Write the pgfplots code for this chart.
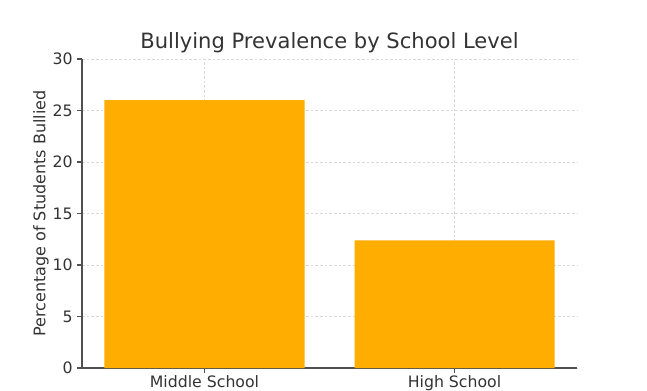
\documentclass[border=0pt]{standalone}
\usepackage{pgfplots}
\pgfplotsset{compat=1.18}
\usepackage{fontspec}
\setmainfont{DejaVu Sans}
\definecolor{barc}{RGB}{255,174,0}
\definecolor{txt}{RGB}{51,51,51}
\definecolor{spine}{RGB}{80,80,80}
\begin{document}
\begin{tikzpicture}
\path[use as bounding box] (0,0) rectangle (485.25pt,292.5pt);
\begin{axis}[
  at={(61.5pt,16.5pt)}, anchor=south west,
  scale only axis, width=371.25pt, height=231.75pt,
  xmin=-0.49, xmax=1.49, ymin=0, ymax=30,
  xtick={0,1}, xticklabels={Middle School, High School},
  ytick={0,5,10,15,20,25,30},
  axis x line*=bottom, axis y line*=left,
  axis line style={spine, line width=0.9pt},
  tick style={spine, line width=0.8pt},
  tick align=outside, major tick length=3.5pt,
  xmajorgrids, ymajorgrids,
  grid style={dash pattern=on 2pt off 1.5pt, gray!30, line width=0.5pt},
  tick label style={font=\fontsize{11.8}{13}\selectfont, text=txt},
  xticklabel style={yshift=1.5pt},
  /pgf/number format/assume math mode=true,
  title={Bullying Prevalence by School Level},
  title style={font=\fontsize{15.8}{18}\selectfont, text=txt, yshift=-5pt},
  ylabel={Percentage of Students Bullied},
  ylabel style={font=\fontsize{12}{14}\selectfont, text=txt, yshift=-4pt},
  ybar, bar width=150pt,
]
\addplot[fill=barc, draw=none, bar shift=0pt] coordinates {(0,26.0) (1,12.4)};
\end{axis}
\end{tikzpicture}
\end{document}
